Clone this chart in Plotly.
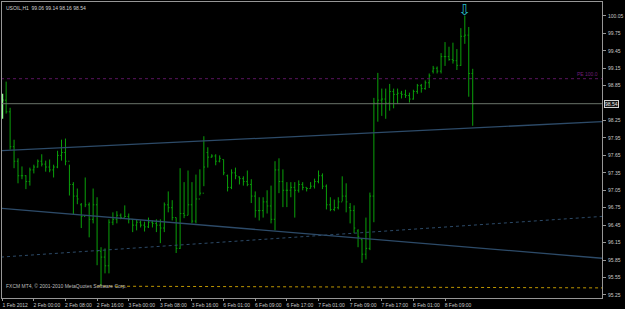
import plotly.graph_objects as go

# ---- data (hourly bars, index 0 = 1 Feb 2012 16:00) ----
bar_idx = list(range(120))
highs = [98.71, 98.92, 98.47, 97.92, 97.60, 97.46, 97.31, 97.44, 97.49, 97.58,
         97.67, 97.56, 97.58, 97.49, 97.73, 97.92, 97.94, 97.49, 97.19, 97.08,
         96.83, 97.27, 96.84, 97.08, 96.93, 96.07, 96.05, 96.55, 96.67, 96.69,
         96.65, 96.79, 96.65, 96.55, 96.55, 96.53, 96.51, 96.58, 96.53, 96.55,
         96.55, 96.84, 97.03, 96.88, 96.58, 97.43, 97.19, 97.39, 97.19, 97.32,
         97.41, 97.98, 97.79, 97.67, 97.67, 97.65, 97.58, 97.32, 97.41, 97.44,
         97.29, 97.29, 97.39, 97.24, 97.03, 96.93, 96.93, 97.05, 97.13, 97.55,
         97.60, 97.41, 97.19, 97.19, 97.19, 97.22, 97.19, 97.10, 97.19, 97.25,
         97.39, 97.34, 97.15, 96.93, 96.89, 96.93, 97.29, 97.17, 96.83, 96.79,
         96.38, 96.22, 96.58, 97.01, 98.64, 99.07, 98.80, 98.80, 98.88, 98.80,
         98.80, 98.76, 98.78, 98.73, 98.78, 98.88, 98.88, 98.94, 99.06, 99.19,
         99.18, 99.41, 99.60, 99.52, 99.59, 99.48, 99.84, 100.05, 99.86, 99.14]
lows = [98.28, 98.37, 97.75, 97.43, 97.17, 97.24, 97.07, 97.13, 97.34, 97.44,
        97.46, 97.37, 97.36, 97.27, 97.43, 97.56, 97.48, 96.96, 96.64, 96.81,
        96.40, 96.76, 96.24, 96.48, 95.76, 95.40, 95.62, 95.62, 96.45, 96.48,
        96.55, 96.59, 96.48, 96.33, 96.36, 96.41, 96.34, 96.40, 96.41, 96.33,
        96.14, 96.33, 96.67, 96.53, 95.97, 96.04, 96.57, 96.62, 96.48, 96.48,
        96.96, 97.12, 97.44, 97.61, 97.48, 97.53, 97.31, 97.03, 97.07, 97.24,
        97.15, 97.13, 97.12, 96.83, 96.58, 96.53, 96.58, 96.65, 96.48, 96.36,
        97.00, 96.76, 96.76, 96.93, 96.58, 97.01, 97.05, 97.03, 97.08, 97.08,
        97.17, 97.07, 96.72, 96.69, 96.69, 96.72, 96.86, 96.67, 96.48, 96.31,
        96.07, 95.80, 95.86, 96.02, 96.50, 98.23, 98.33, 98.28, 98.42, 98.46,
        98.54, 98.63, 98.64, 98.56, 98.61, 98.71, 98.73, 98.78, 98.81, 99.06,
        99.06, 99.06, 99.19, 99.28, 99.23, 99.12, 99.19, 99.57, 98.66, 98.16]
closes = [98.60, 98.40, 97.80, 97.55, 97.30, 97.30, 97.20, 97.40, 97.45, 97.55,
          97.50, 97.45, 97.40, 97.45, 97.65, 97.70, 97.55, 97.15, 96.95, 96.90,
          96.60, 96.80, 96.55, 96.80, 96.00, 95.90, 95.75, 96.50, 96.55, 96.62,
          96.58, 96.60, 96.55, 96.45, 96.50, 96.45, 96.42, 96.50, 96.48, 96.45,
          96.40, 96.80, 96.75, 96.58, 96.05, 96.65, 96.62, 96.80, 96.52, 96.90,
          97.00, 97.45, 97.62, 97.64, 97.55, 97.60, 97.35, 97.10, 97.35, 97.30,
          97.25, 97.20, 97.15, 96.95, 96.70, 96.70, 96.85, 96.78, 96.55, 97.40,
          97.20, 97.05, 97.05, 97.10, 97.05, 97.15, 97.10, 97.08, 97.12, 97.20,
          97.30, 97.12, 96.80, 96.72, 96.75, 96.85, 96.95, 96.85, 96.70, 96.40,
          96.25, 95.95, 96.05, 96.95, 98.55, 98.60, 98.62, 98.55, 98.75, 98.70,
          98.72, 98.70, 98.68, 98.62, 98.75, 98.85, 98.80, 98.90, 99.02, 99.15,
          99.10, 99.35, 99.35, 99.30, 99.28, 99.20, 99.70, 99.72, 99.06, 98.54]
opens = [98.50, 98.60, 98.40, 97.80, 97.55, 97.30, 97.30, 97.20, 97.40, 97.45,
         97.55, 97.50, 97.45, 97.40, 97.45, 97.65, 97.70, 97.55, 97.15, 96.95,
         96.80, 96.60, 96.80, 96.55, 96.80, 96.00, 95.90, 95.75, 96.50, 96.55,
         96.62, 96.58, 96.60, 96.55, 96.45, 96.50, 96.45, 96.42, 96.50, 96.48,
         96.45, 96.40, 96.80, 96.75, 96.58, 96.05, 96.65, 96.62, 96.80, 96.52,
         96.90, 97.00, 97.70, 97.62, 97.64, 97.55, 97.58, 97.30, 97.10, 97.35,
         97.28, 97.25, 97.20, 97.15, 96.95, 96.70, 96.70, 96.85, 96.78, 96.55,
         97.40, 97.20, 97.05, 97.05, 97.10, 97.05, 97.15, 97.10, 97.08, 97.12,
         97.20, 97.30, 97.12, 96.80, 96.72, 96.75, 96.85, 96.95, 96.75, 96.70,
         96.35, 96.20, 95.95, 96.05, 96.95, 98.55, 98.60, 98.62, 98.55, 98.75,
         98.70, 98.72, 98.70, 98.68, 98.62, 98.75, 98.85, 98.80, 98.90, 99.10,
         99.15, 99.10, 99.35, 99.35, 99.30, 99.28, 99.20, 99.70, 99.72, 99.06]

# time axis labels
xtick_idx = [0, 8, 16, 24, 32, 40, 48, 56, 64, 72, 80, 88, 96, 104, 112]
xtick_txt = ["1 Feb 2012", "2 Feb 00:00", "2 Feb 08:00", "2 Feb 16:00", "3 Feb 00:00",
             "3 Feb 08:00", "3 Feb 16:00", "6 Feb 01:00", "6 Feb 09:00", "6 Feb 17:00",
             "7 Feb 01:00", "7 Feb 09:00", "7 Feb 17:00", "8 Feb 01:00", "8 Feb 09:00"]
ytick_vals = [100.05, 99.75, 99.45, 99.15, 98.85, 98.25, 97.95, 97.65, 97.35, 97.05,
              96.75, 96.45, 96.15, 95.85, 95.55, 95.25]

# drawn objects (index, price)
x_span = [-0.3, 151.7]
trend_up = [97.73, 98.23]
trend_down = [96.74, 95.88]
channel_dot = [95.90, 96.60]
pe_level = 98.97
bid = 98.54
low_line_x = [24, 151.7]
low_line_y = [95.40, 95.37]
arrow_x, arrow_y = 117, 100.13
symbol_info = "USOIL,H1  99.06 99.14 98.16 98.54"

GREEN = "rgb(10,160,10)"
fig = go.Figure()

# trend / channel lines
fig.add_trace(go.Scatter(x=x_span, y=trend_up, mode="lines",
                         line=dict(color="rgb(45,75,105)", width=1.3), hoverinfo="skip"))
fig.add_trace(go.Scatter(x=x_span, y=trend_down, mode="lines",
                         line=dict(color="rgb(45,75,105)", width=1.3), hoverinfo="skip"))
fig.add_trace(go.Scatter(x=x_span, y=channel_dot, mode="lines",
                         line=dict(color="rgb(45,75,105)", width=1, dash="dot"), hoverinfo="skip"))
fig.add_trace(go.Scatter(x=x_span, y=[pe_level, pe_level], mode="lines",
                         line=dict(color="rgb(90,20,95)", width=1, dash="dot"), hoverinfo="skip"))
fig.add_trace(go.Scatter(x=x_span, y=[bid, bid], mode="lines",
                         line=dict(color="rgb(105,115,105)", width=1), hoverinfo="skip"))
fig.add_trace(go.Scatter(x=low_line_x, y=low_line_y, mode="lines",
                         line=dict(color="rgb(190,150,0)", width=1, dash="dot"), hoverinfo="skip"))

# price bars
fig.add_trace(go.Ohlc(x=bar_idx[1:], open=opens[1:], high=highs[1:], low=lows[1:], close=closes[1:],
                      increasing=dict(line=dict(color=GREEN, width=1)),
                      decreasing=dict(line=dict(color=GREEN, width=1)),
                      tickwidth=0.3, hoverinfo="skip"))
fig.add_trace(go.Ohlc(x=bar_idx[:1], open=opens[:1], high=highs[:1], low=lows[:1], close=closes[:1],
                      increasing=dict(line=dict(color="rgb(140,255,140)", width=2)),
                      decreasing=dict(line=dict(color="rgb(140,255,140)", width=2)),
                      tickwidth=0.3, hoverinfo="skip"))

# arrow signal
fig.add_trace(go.Scatter(x=[arrow_x], y=[arrow_y], mode="text", text=["⇩"],
                         textfont=dict(color="rgb(40,190,200)", size=15, family="DejaVu Sans"),
                         hoverinfo="skip"))

axis_font = dict(family="Liberation Sans", size=5, color="rgb(200,200,200)")
fig.update_layout(
    width=625, height=309,
    margin=dict(l=1, r=21, t=1, b=11),
    paper_bgcolor="black", plot_bgcolor="black",
    showlegend=False,
    xaxis=dict(range=[-0.05, 151.7], rangeslider=dict(visible=False),
               tickvals=xtick_idx, ticktext=xtick_txt, tickangle=0,
               ticks="outside", ticklen=2, tickcolor="rgb(150,150,150)",
               tickfont=axis_font, ticklabelshift=13, ticklabelstandoff=0,
               showgrid=False, zeroline=False,
               showline=True, mirror=True, linecolor="rgb(150,150,150)", linewidth=1),
    yaxis=dict(range=[95.196, 100.29], side="right",
               tickvals=ytick_vals, ticktext=[f"{v:.2f}" for v in ytick_vals],
               ticks="outside", ticklen=3, tickcolor="rgb(150,150,150)",
               tickfont=axis_font, ticklabelstandoff=1,
               showgrid=False, zeroline=False,
               showline=True, mirror=True, linecolor="rgb(150,150,150)", linewidth=1),
    annotations=[
        dict(text=symbol_info, xref="paper", yref="paper", x=0.004, y=0.995,
             xanchor="left", yanchor="top", showarrow=False,
             font=dict(family="Liberation Sans", size=5, color="rgb(210,210,210)")),
        dict(text="FXCM MT4, © 2001-2010 MetaQuotes Software Corp.", xref="paper", yref="paper",
             x=0.003, y=0.025, xanchor="left", yanchor="bottom", showarrow=False,
             font=dict(family="Liberation Sans", size=5, color="rgb(190,190,190)")),
        dict(text="PE 100.0", xref="paper", yref="y", x=0.997, y=pe_level,
             xanchor="right", yanchor="bottom", showarrow=False,
             font=dict(family="Liberation Sans", size=5, color="rgb(110,30,120)")),
        dict(text=f"{bid:.2f}", xref="paper", yref="y", x=1.004, y=bid,
             xanchor="left", yanchor="middle", showarrow=False,
             bgcolor="rgb(20,20,20)", bordercolor="rgb(210,210,210)", borderwidth=1, borderpad=0,
             font=dict(family="Liberation Sans", size=5, color="rgb(230,230,230)")),
    ],
)

fig.write_html("out.html")
